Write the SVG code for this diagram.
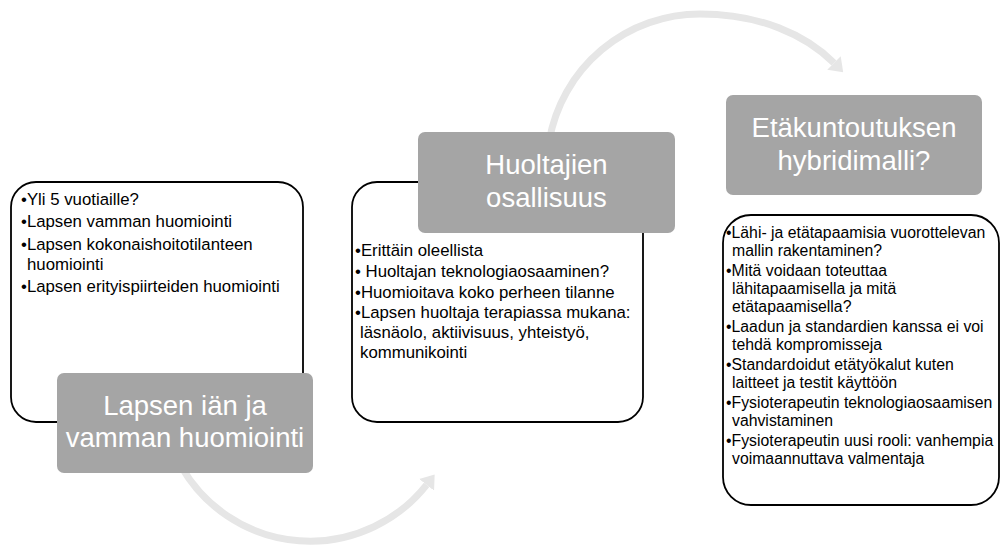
<svg xmlns="http://www.w3.org/2000/svg" width="1001" height="550" viewBox="0 0 1001 550">
  <style>
    .card { fill: #FFFFFF; stroke: #000000; stroke-width: 1.8; }
    .title { fill: #A5A5A5; }
    .ttext { font-family: "Liberation Sans", Arial, sans-serif; font-size: 27.5px; fill: #FFFFFF; text-anchor: middle; }
    .body { font-family: "Liberation Sans", Arial, sans-serif; font-size: 16.8px; fill: #000000; }
    .body3 { font-family: "Liberation Sans", Arial, sans-serif; font-size: 15.8px; fill: #000000; }
    .arc { fill: none; stroke: #E6E6E6; stroke-width: 7; marker-end: url(#head); }
  </style>
  <defs>
    <marker id="head" markerUnits="userSpaceOnUse" markerWidth="13" markerHeight="19" viewBox="0 0 13 19" refX="0" refY="9.5" orient="auto">
      <path d="M0,0 L13,9.5 L0,19 Z" fill="#E6E6E6"/>
    </marker>
  </defs>
  <rect width="1001" height="550" fill="#FFFFFF"/>

  <g id="connectors">
    <path class="arc" d="M181.4,466.7 A148.5,148.5 0 0 0 426.6,484.8"/>
    <path class="arc" d="M549.3,140.4 A153,153 0 0 1 700,14 C760,14 805.7,34.7 834,63"/>
  </g>

  <g id="node1">
    <rect class="card" x="11" y="182" width="292" height="240" rx="25" ry="25"/>
    <text class="body" x="21" y="205">•Yli 5 vuotiaille?</text>
    <text class="body" x="21" y="227">•Lapsen vamman huomiointi</text>
    <text class="body" x="21" y="250">•Lapsen kokonaishoitotilanteen</text>
    <text class="body" x="27" y="270">huomiointi</text>
    <text class="body" x="21" y="292">•Lapsen erityispiirteiden huomiointi</text>
    <rect class="title" x="57" y="373" width="256" height="100" rx="7" ry="7"/>
    <text class="ttext" x="185" y="415">Lapsen iän ja</text>
    <text class="ttext" x="185" y="447">vamman huomiointi</text>
  </g>

  <g id="node2">
    <rect class="card" x="352" y="182" width="291" height="240" rx="25" ry="25"/>
    <text class="body" x="355" y="256">•Erittäin oleellista</text>
    <text class="body" x="355" y="277">• Huoltajan teknologiaosaaminen?</text>
    <text class="body" x="355" y="298">•Huomioitava koko perheen tilanne</text>
    <text class="body" x="355" y="318">•Lapsen huoltaja terapiassa mukana:</text>
    <text class="body" x="360" y="338">läsnäolo, aktiivisuus, yhteistyö,</text>
    <text class="body" x="360" y="358">kommunikointi</text>
    <rect class="title" x="418" y="132" width="257" height="101" rx="7" ry="7"/>
    <text class="ttext" x="546.5" y="174">Huoltajien</text>
    <text class="ttext" x="546.5" y="207">osallisuus</text>
  </g>

  <g id="node3">
    <rect class="card" x="723" y="215" width="276" height="290" rx="28" ry="28"/>
    <text class="body3" x="726" y="238">•Lähi- ja etätapaamisia vuorottelevan</text>
    <text class="body3" x="732" y="256">mallin rakentaminen?</text>
    <text class="body3" x="726" y="276">•Mitä voidaan toteuttaa</text>
    <text class="body3" x="732" y="294">lähitapaamisella ja mitä</text>
    <text class="body3" x="732" y="312">etätapaamisella?</text>
    <text class="body3" x="726" y="332">•Laadun ja standardien kanssa ei voi</text>
    <text class="body3" x="732" y="350">tehdä kompromisseja</text>
    <text class="body3" x="726" y="370">•Standardoidut etätyökalut kuten</text>
    <text class="body3" x="732" y="388">laitteet ja testit käyttöön</text>
    <text class="body3" x="726" y="408">•Fysioterapeutin teknologiaosaamisen</text>
    <text class="body3" x="732" y="426">vahvistaminen</text>
    <text class="body3" x="726" y="446">•Fysioterapeutin uusi rooli: vanhempia</text>
    <text class="body3" x="732" y="464">voimaannuttava valmentaja</text>
    <rect class="title" x="726" y="95" width="256" height="100" rx="7" ry="7"/>
    <text class="ttext" x="854" y="137">Etäkuntoutuksen</text>
    <text class="ttext" x="854" y="170">hybridimalli?</text>
  </g>
</svg>
